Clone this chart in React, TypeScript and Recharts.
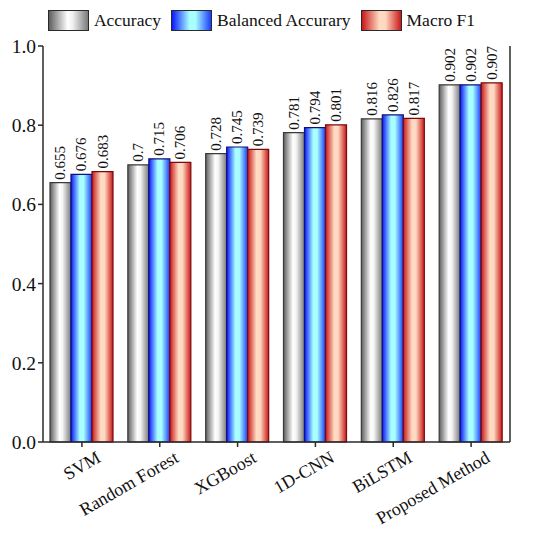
import React from 'react';
import {
  BarChart,
  Bar,
  XAxis,
  YAxis,
  Legend,
  LabelList
} from 'recharts';

const methods = ['SVM', 'Random Forest', 'XGBoost', '1D-CNN', 'BiLSTM', 'Proposed Method'];
const accuracy = [0.655, 0.7, 0.728, 0.781, 0.816, 0.902];
const balancedAccuracy = [0.676, 0.715, 0.745, 0.794, 0.826, 0.902];
const macroF1 = [0.683, 0.706, 0.739, 0.801, 0.817, 0.907];
const yTicks = [0, 0.2, 0.4, 0.6, 0.8, 1.0];

const data = methods.map((name, i) => ({
  name,
  accuracy: accuracy[i],
  balanced: balancedAccuracy[i],
  macro: macroF1[i]
}));

const FONT = '"Liberation Serif", "Times New Roman", serif';
const AXIS = '#2a2a2a';

const series = [
  { key: 'accuracy', label: 'Accuracy', grad: 'gGray', stroke: '#3a3a3a',
    css: 'linear-gradient(to right, #5e5e5e, #ffffff 48%, #f2f2f2 60%, #7a7a7a)' },
  { key: 'balanced', label: 'Balanced Accurary', grad: 'gBlue', stroke: '#10107a',
    css: 'linear-gradient(to right, #0a18ff, #a8ffff 45%, #a8ffff 60%, #1a3cff)' },
  { key: 'macro', label: 'Macro F1', grad: 'gRed', stroke: '#7a0a0a',
    css: 'linear-gradient(to right, #c81818, #ffdcc4 45%, #ffd8c0 60%, #c81818)' }
];

function ChartLegend() {
  return (
    <div style={{ height: 36, display: 'flex', justifyContent: 'center', alignItems: 'flex-start',
      gap: 10, paddingTop: 1, paddingLeft: 12, fontFamily: FONT, fontSize: 17.5, color: '#111' }}>
      {series.map(s => (
        <div key={s.key} style={{ display: 'flex', alignItems: 'center' }}>
          <div style={{ width: 39, height: 19, background: s.css, border: `1.5px solid ${AXIS}`, marginRight: 5 }} />
          <span>{s.label}</span>
        </div>
      ))}
    </div>
  );
}

function ValueLabel(props: any) {
  const { x, y, width, value } = props;
  const cx = x + width / 2;
  const ty = y - 3;
  return (
    <text x={cx} y={ty} transform={`rotate(-90, ${cx}, ${ty})`} textAnchor="start"
      dominantBaseline="central" fontFamily={FONT} fontSize={15} fill="#111">
      {String(value)}
    </text>
  );
}

function CategoryTick(props: any) {
  const { x, y, payload } = props;
  const tx = x + 20;
  const ty = y + 12;
  return (
    <text x={tx} y={ty} transform={`rotate(-30, ${tx}, ${ty})`} textAnchor="end"
      fontFamily={FONT} fontSize={18} fill="#111">
      {payload.value}
    </text>
  );
}

export default function App() {
  return (
    <div style={{ position: 'absolute', left: 0, top: 0, background: '#fff' }}>
      <BarChart width={550} height={538} data={data}
        margin={{ top: 9, right: 39, bottom: 0, left: 0 }}
        barCategoryGap="9%" barGap={0}>
        <defs>
          <linearGradient id="gGray" x1="0" y1="0" x2="1" y2="0">
            <stop offset="0%" stopColor="#5e5e5e" />
            <stop offset="45%" stopColor="#ffffff" />
            <stop offset="60%" stopColor="#f4f4f4" />
            <stop offset="100%" stopColor="#7a7a7a" />
          </linearGradient>
          <linearGradient id="gBlue" x1="0" y1="0" x2="1" y2="0">
            <stop offset="0%" stopColor="#0a18ff" />
            <stop offset="42%" stopColor="#a8ffff" />
            <stop offset="60%" stopColor="#a8ffff" />
            <stop offset="100%" stopColor="#1a3cff" />
          </linearGradient>
          <linearGradient id="gRed" x1="0" y1="0" x2="1" y2="0">
            <stop offset="0%" stopColor="#c81818" />
            <stop offset="42%" stopColor="#ffdcc4" />
            <stop offset="60%" stopColor="#ffd8c0" />
            <stop offset="100%" stopColor="#c81818" />
          </linearGradient>
        </defs>
        <Legend verticalAlign="top" align="center" content={() => <ChartLegend />} />
        <XAxis dataKey="name" height={96} interval={0} tickSize={5}
          stroke={AXIS} strokeWidth={1.5} tick={<CategoryTick />} />
        <XAxis xAxisId="top" dataKey="name" orientation="top" height={0}
          tick={false} tickLine={false} stroke={AXIS} strokeWidth={1.5} />
        <YAxis domain={[0, 1]} ticks={yTicks} width={43} tickSize={5}
          tickFormatter={(v: number) => v.toFixed(1)} stroke={AXIS} strokeWidth={1.5}
          tick={{ fontFamily: FONT, fontSize: 19.5, fill: '#111' }} />
        <YAxis yAxisId="right" orientation="right" domain={[0, 1]} width={1}
          tick={false} tickLine={false} stroke={AXIS} strokeWidth={1.5} />
        {series.map(s => (
          <Bar key={s.key} dataKey={s.key} name={s.label} fill={`url(#${s.grad})`}
            stroke={s.stroke} strokeWidth={1.2} isAnimationActive={false}>
            <LabelList dataKey={s.key} content={<ValueLabel />} />
          </Bar>
        ))}
      </BarChart>
    </div>
  );
}
